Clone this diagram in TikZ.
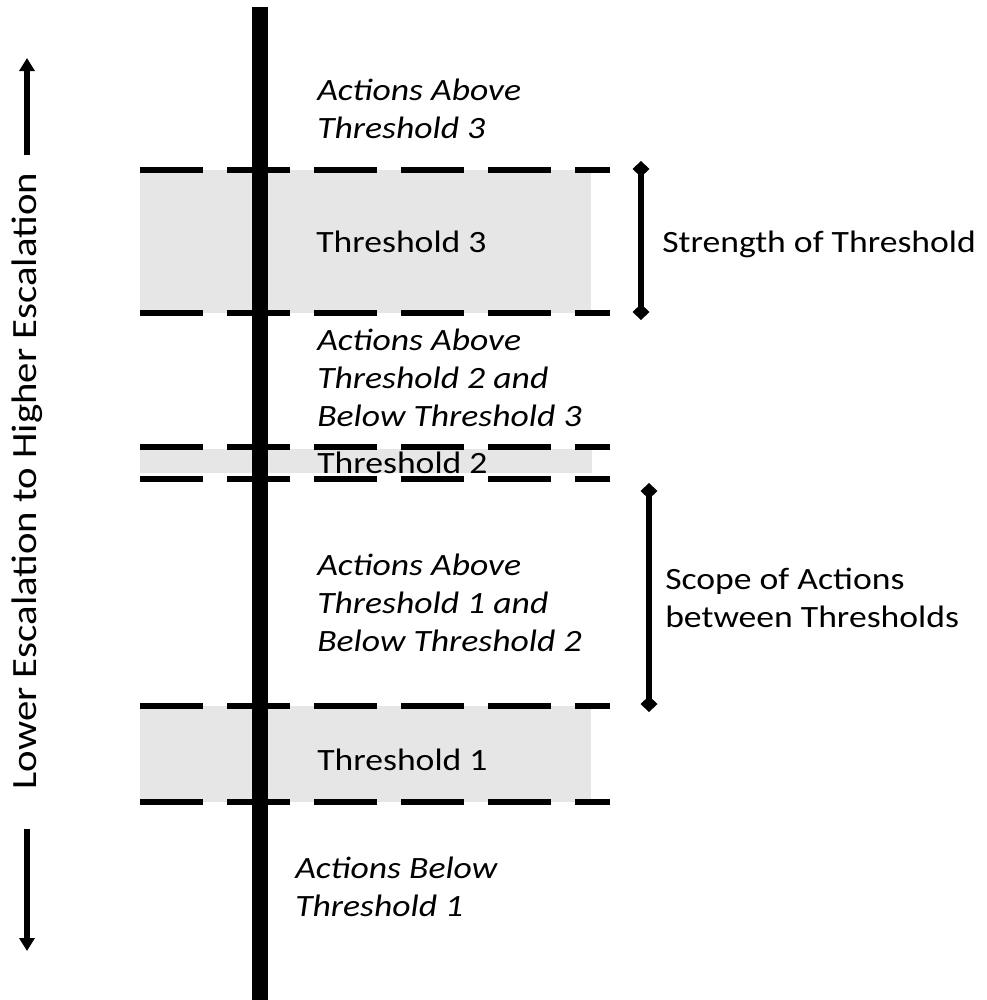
\documentclass[tikz,border=0pt]{standalone}
\usepackage{fontspec}
\setmainfont{Carlito}[FakeStretch=1.15]
\usetikzlibrary{arrows.meta}
\definecolor{bandgray}{RGB}{230,230,230}
\begin{document}
\begin{tikzpicture}[x=0.75pt,y=-0.75pt,
  lbl/.style={inner sep=0pt, anchor=base west, align=left, font=\fontsize{23.25}{28.5}\selectfont},
  act/.style={lbl, font=\fontsize{23.25}{28.5}\selectfont\itshape},
  thr/.style={line width=4.5pt, dash pattern=on 47.25pt off 18pt},
  bandbox/.style={fill=bandgray, draw=none},
  escarrow/.style={line width=4.5pt, -{Triangle[width=11.25pt,length=9.75pt]}},
  spanbar/.style={line width=4.5pt, {Diamond[width=12.75pt,length=12pt]}-{Diamond[width=12.75pt,length=12pt]}},
  axis/.style={line width=12pt}]
\useasboundingbox (0,0) rectangle (986,1000);
% bands
\fill[bandbox] (140,170) rectangle (591,313);
\fill[bandbox] (140,449) rectangle (592,473);
\fill[bandbox] (140,706) rectangle (591,802);
% threshold lines
\foreach \yy in {170,313,447,479,706,802}{
  \draw[thr] (140,\yy) -- (610,\yy);
}
% main axis
\coordinate (axtop) at (260,7);
\coordinate (axbot) at (260,1000);
\draw[axis] (axtop) -- (axbot);
% escalation arrows and label
\node[rotate=90, inner sep=0pt, font=\fontsize{26.6}{32}\selectfont] (esc) at (27,481) {Lower Escalation to Higher Escalation};
\coordinate (uptip) at (27,58);
\coordinate (upstart) at (27,155);
\coordinate (dnstart) at (27,829);
\coordinate (dntip) at (27,951);
\draw[escarrow] (upstart) -- (uptip);
\draw[escarrow] (dnstart) -- (dntip);
% span bars
\coordinate (s1) at (641,161);
\coordinate (s2) at (641,320);
\draw[spanbar] (s1) -- (s2);
\coordinate (c1) at (649,483);
\coordinate (c2) at (649,712);
\draw[spanbar] (c1) -- (c2);
% texts (base anchor = baseline of last line)
\node[act] (a3) at (317,138) {Actions Above\\Threshold 3};
\node[lbl] (t3) at (316,252) {Threshold 3};
\node[lbl] (str) at (662,252) {Strength of Threshold};
\node[act] (a23) at (317,426) {Actions Above\\Threshold 2 and\\Below Threshold 3};
\node[lbl] (t2) at (317,473) {Threshold 2};
\node[act] (a12) at (317,651) {Actions Above\\Threshold 1 and\\Below Threshold 2};
\node[lbl] (scope) at (665,627) {Scope of Actions\\between Thresholds};
\node[lbl] (t1) at (317,770) {Threshold 1};
\node[act] (a0) at (295,916) {Actions Below\\Threshold 1};
\end{tikzpicture}
\end{document}
